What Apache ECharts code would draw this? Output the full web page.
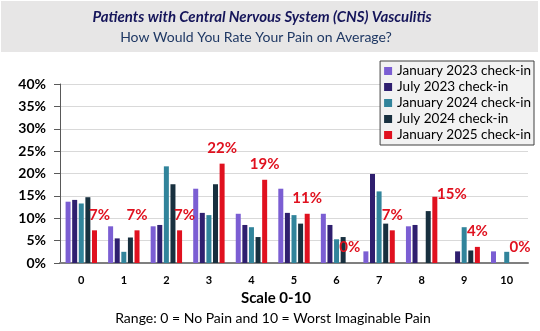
<!DOCTYPE html>
<html><head><meta charset="utf-8">
<script src="https://cdn.jsdelivr.net/npm/echarts@6/dist/echarts.min.js"></script>
<style>html,body{margin:0;padding:0;background:#fff}#c{width:540px;height:331px}</style>
</head><body><div id="c"></div>
<script>
const categories = ['0','1','2','3','4','5','6','7','8','9','10'];
const seriesNames = ['January 2023 check-in','July 2023 check-in','January 2024 check-in','July 2024 check-in','January 2025 check-in'];
const jan2023 = [13.7, 8.2, 8.2, 16.6, 11.0, 16.6, 11.0, 2.6, 8.2, 0, 2.6];
const jul2023 = [14.1, 5.5, 8.5, 11.2, 8.5, 11.2, 8.5, 19.9, 8.5, 2.6, 0];
const jan2024 = [13.3, 2.5, 21.6, 10.7, 8.0, 10.7, 5.3, 16.0, 0, 8.0, 2.5];
const jul2024 = [14.7, 5.7, 17.6, 17.6, 5.8, 8.8, 5.8, 8.8, 11.6, 2.8, 0];
const jan2025 = [7.3, 7.3, 7.3, 22.2, 18.6, 11.0, 0, 7.3, 14.8, 3.6, 0];
const yTicks = [0,5,10,15,20,25,30,35,40];

const colors = ['#7b5ed3','#2f1f6f','#31849b','#18303f','#e0111f'];
const labelNudges = {0:[5,0], 2:[5,0], 8:[17,13]};
const FONT = 'Lato';

const allData = [jan2023, jul2023, jan2024, jul2024, jan2025];
const series = allData.map((d, i) => ({
  name: seriesNames[i],
  type: 'bar',
  barWidth: 5,
  barGap: '32%',
  itemStyle: {color: colors[i]},
  data: i === 4 ? d.map((v, k) => labelNudges[k] ? {value: v, label: {offset: labelNudges[k]}} : v) : d,
  label: i === 4 ? {
    show: true, position: 'top', distance: 8,
    formatter: p => Math.round(p.value) + '%',
    color: '#e0111f', fontWeight: 'bold', fontSize: 15, fontFamily: FONT
  } : {show: false}
}));

const chart = echarts.init(document.getElementById('c'), null, {renderer: 'canvas'});
chart.setOption({
  animation: false,
  backgroundColor: '#fff',
  graphic: [
    {type: 'rect', shape: {x: 1, y: 1, width: 537, height: 51}, style: {fill: '#e7e6e6'}, z: -1},
    {type: 'text', x: 262, y: 17, style: {text: 'Patients with Central Nervous System (CNS) Vasculitis', align: 'center', verticalAlign: 'middle', font: 'italic bold 15px ' + FONT, fill: '#15155a'}},
    {type: 'text', x: 256, y: 37, style: {text: 'How Would You Rate Your Pain on Average?', align: 'center', verticalAlign: 'middle', font: '14px ' + FONT, fill: '#1f3864'}},
    {type: 'text', x: 276, y: 298, style: {text: 'Scale 0-10', align: 'center', verticalAlign: 'middle', font: 'bold 15px ' + FONT, fill: '#000'}},
    {type: 'text', x: 273, y: 318, style: {text: 'Range: 0 = No Pain and 10 = Worst Imaginable Pain', align: 'center', verticalAlign: 'middle', font: '14px ' + FONT, fill: '#000'}}
  ],
  legend: {
    orient: 'vertical', right: 6, top: 61,
    backgroundColor: '#f2f2f2', borderColor: '#404040', borderWidth: 1,
    padding: [3, 3, 3, 4], itemWidth: 8, itemHeight: 8, itemGap: 2,
    icon: 'rect',
    textStyle: {fontSize: 13.5, fontFamily: FONT, color: '#000'},
    data: seriesNames
  },
  grid: {left: 60, right: 12, top: 84, bottom: 68, containLabel: false},
  xAxis: {
    type: 'category', data: categories,
    axisLine: {lineStyle: {color: '#7f7f7f', width: 2}},
    axisTick: {show: false},
    axisLabel: {color: '#000', fontWeight: 'bold', fontSize: 11, fontFamily: FONT, margin: 12}
  },
  yAxis: {
    type: 'value', min: yTicks[0], max: yTicks[yTicks.length - 1], interval: 5,
    axisLine: {show: true, lineStyle: {color: '#595959', width: 1}},
    axisTick: {show: true, length: 6, lineStyle: {color: '#595959'}},
    axisLabel: {formatter: '{value}%', color: '#000', fontWeight: 'bold', fontSize: 14, fontFamily: FONT, margin: 14},
    splitLine: {lineStyle: {color: '#d9d9d9', width: 1}}
  },
  series: series
});
</script></body></html>
